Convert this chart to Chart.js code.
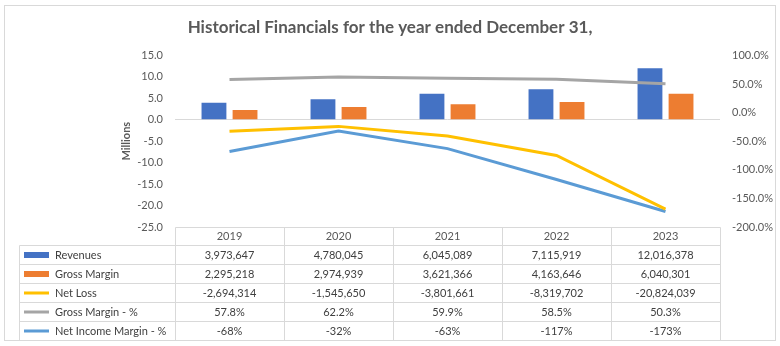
<!DOCTYPE html>
<html>
<head>
<meta charset="utf-8">
<script src="https://cdn.jsdelivr.net/npm/chart.js@4"></script>
<style>
html,body{margin:0;padding:0;background:#fff;}
#wrap{width:780px;height:346px;position:relative;}
</style>
</head>
<body>
<div id="wrap"><canvas id="c" width="780" height="346"></canvas></div>
<script>
const years = ['2019', '2020', '2021', '2022', '2023'];
const revenues = [3973647, 4780045, 6045089, 7115919, 12016378];
const grossMargin = [2295218, 2974939, 3621366, 4163646, 6040301];
const netLoss = [-2694314, -1545650, -3801661, -8319702, -20824039];
const grossMarginPct = [57.8, 62.2, 59.9, 58.5, 50.3];
const netIncomeMarginPct = [-68, -32, -63, -117, -173];
const leftTicks = [15, 10, 5, 0, -5, -10, -15, -20, -25];
const rightTicks = [100, 50, 0, -50, -100, -150, -200];

const FONT = 'Lato, "Open Sans", sans-serif';
const TXT = '#595959';

const fmtNum = v => v.toLocaleString('en-US');
const tableRows = [
  {label: 'Revenues', kind: 'bar', color: '#4472C4', values: revenues.map(fmtNum)},
  {label: 'Gross Margin', kind: 'bar', color: '#ED7D31', values: grossMargin.map(fmtNum)},
  {label: 'Net Loss', kind: 'line', color: '#FFC000', values: netLoss.map(fmtNum)},
  {label: 'Gross Margin - %', kind: 'line', color: '#A5A5A5', values: grossMarginPct.map(v => v.toFixed(1) + '%')},
  {label: 'Net Income Margin - %', kind: 'line', color: '#5B9BD5', values: netIncomeMarginPct.map(v => v + '%')}
];

const framePlugin = {
  id: 'frame',
  beforeDraw(chart) {
    const ctx = chart.ctx;
    ctx.save();
    ctx.fillStyle = '#fff';
    ctx.fillRect(0, 0, chart.width, chart.height);
    ctx.strokeStyle = '#d9d9d9';
    ctx.lineWidth = 1;
    ctx.strokeRect(4.5, 5.5, 771, 335);
    ctx.restore();
  }
};

const tablePlugin = {
  id: 'dataTable',
  afterDraw(chart) {
    const ctx = chart.ctx;
    const xs = chart.scales.x;
    const area = chart.chartArea;
    const n = years.length;
    const half = (xs.getPixelForValue(1) - xs.getPixelForValue(0)) / 2;
    const bounds = [];
    for (let i = 0; i < n; i++) bounds.push(Math.round(xs.getPixelForValue(i) - half) + 0.5);
    bounds.push(Math.round(xs.getPixelForValue(n - 1) + half) + 0.5);
    const top = Math.round(area.bottom) + 0.5;
    const headerH = 18, rowH = 19;
    const tableLeft = 19.5;
    const rowsTop = top + headerH;
    const bottom = rowsTop + rowH * tableRows.length;
    ctx.save();
    ctx.strokeStyle = '#d9d9d9';
    ctx.lineWidth = 1;
    ctx.beginPath();
    // header row
    ctx.moveTo(bounds[0], top); ctx.lineTo(bounds[n], top);
    for (let i = 0; i <= n; i++) { ctx.moveTo(bounds[i], top); ctx.lineTo(bounds[i], bottom); }
    // data rows
    for (let r = 0; r <= tableRows.length; r++) {
      const y = rowsTop + r * rowH;
      ctx.moveTo(tableLeft, y); ctx.lineTo(bounds[n], y);
    }
    ctx.moveTo(tableLeft, rowsTop); ctx.lineTo(tableLeft, bottom);
    ctx.stroke();

    ctx.font = '11px ' + FONT;
    ctx.fillStyle = '#404040';
    ctx.textBaseline = 'middle';
    tableRows.forEach((row, r) => {
      const cy = rowsTop + r * rowH + rowH / 2;
      ctx.fillStyle = row.color;
      if (row.kind === 'bar') ctx.fillRect(24, cy - 3, 25, 6);
      else ctx.fillRect(24, cy - 1.5, 25, 3);
      ctx.fillStyle = '#404040';
      ctx.textAlign = 'left';
      ctx.fillText(row.label, 55, cy);
      ctx.textAlign = 'center';
      row.values.forEach((v, i) => {
        ctx.fillText(v, xs.getPixelForValue(i), cy);
      });
    });
    ctx.restore();
  }
};

new Chart(document.getElementById('c'), {
  data: {
    labels: years,
    datasets: [
      {type: 'bar', label: 'Revenues', data: revenues.map(v => v / 1e6), backgroundColor: '#4472C4', yAxisID: 'y', order: 3,
       categoryPercentage: 0.57, barPercentage: 0.8},
      {type: 'bar', label: 'Gross Margin', data: grossMargin.map(v => v / 1e6), backgroundColor: '#ED7D31', yAxisID: 'y', order: 3,
       categoryPercentage: 0.57, barPercentage: 0.8},
      {type: 'line', label: 'Net Loss', data: netLoss.map(v => v / 1e6), borderColor: '#FFC000', borderWidth: 3, pointRadius: 0, yAxisID: 'y', order: 1},
      {type: 'line', label: 'Gross Margin - %', data: grossMarginPct, borderColor: '#A5A5A5', borderWidth: 3, pointRadius: 0, yAxisID: 'y1', order: 1},
      {type: 'line', label: 'Net Income Margin - %', data: netIncomeMarginPct, borderColor: '#5B9BD5', borderWidth: 3, pointRadius: 0, yAxisID: 'y1', order: 1}
    ]
  },
  options: {
    responsive: false,
    animation: false,
    layout: {padding: 0},
    plugins: {
      legend: {display: false},
      tooltip: {enabled: false},
      title: {
        display: true,
        text: 'Historical Financials for the year ended December 31,',
        color: TXT,
        font: {family: FONT, size: 17, weight: 'bold'},
        padding: {top: 17, bottom: 18}
      }
    },
    scales: {
      x: {
        type: 'category',
        position: 'bottom',
        grid: {display: false, drawTicks: false},
        border: {display: false},
        ticks: {color: TXT, font: {family: FONT, size: 11}, padding: 3},
        afterFit(s) { s.height = 119; }
      },
      y: {
        type: 'linear',
        position: 'left',
        min: -25, max: 15,
        afterBuildTicks(s) { s.ticks = leftTicks.map(v => ({value: v})); },
        grid: {drawTicks: false, color: c => (c.tick && c.tick.value === 0) ? '#d9d9d9' : 'rgba(0,0,0,0)', lineWidth: 1},
        border: {display: false},
        ticks: {color: TXT, font: {family: FONT, size: 11}, padding: 12, callback: v => v.toFixed(1)},
        title: {display: true, text: 'Millions', color: TXT, font: {family: FONT, size: 11, weight: 'bold'}, padding: {top: 120, bottom: 0}},
        afterFit(s) { s.width = 175; }
      },
      y1: {
        type: 'linear',
        position: 'right',
        min: -200, max: 100,
        afterBuildTicks(s) { s.ticks = rightTicks.map(v => ({value: v})); },
        grid: {display: false, drawTicks: false},
        border: {display: false},
        ticks: {color: TXT, font: {family: FONT, size: 11}, padding: 12, callback: v => v.toFixed(1) + '%'},
        afterFit(s) { s.width = 60; }
      }
    }
  },
  plugins: [framePlugin, tablePlugin]
});
</script>
</body>
</html>
